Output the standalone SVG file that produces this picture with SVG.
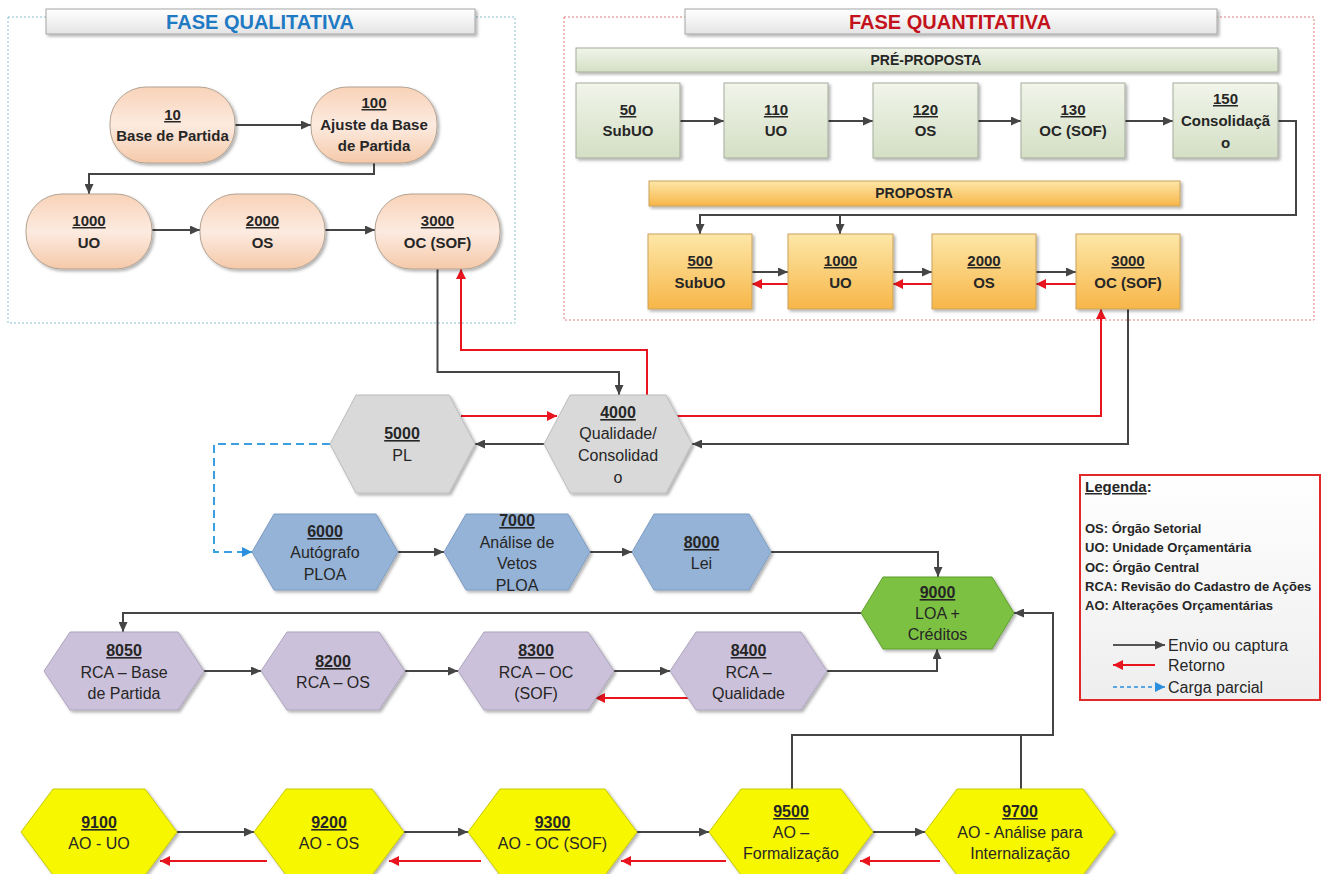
<svg xmlns="http://www.w3.org/2000/svg" width="1327" height="874" viewBox="0 0 1327 874">
<defs>
<style>
text{font-family:"Liberation Sans",Arial,sans-serif;fill:#262626;text-anchor:middle}
.b15{font-size:15px;font-weight:bold}
.n16{font-size:16px}
.num{font-weight:bold;text-decoration:underline}
.ln{fill:none;stroke:#454545;stroke-width:2;marker-end:url(#ad)}
.rd{fill:none;stroke:#e8141e;stroke-width:2;marker-end:url(#ar)}
.qual{fill:url(#gPeach);stroke:#b3a393;stroke-width:1}
.pre{fill:url(#gGreen);stroke:#a3ab9c;stroke-width:1}
.pro{fill:url(#gOrange);stroke:#c9a15a;stroke-width:1}
.gray{fill:#d9d9d9;stroke:#bcbcbc;stroke-width:1}
.blue{fill:#95b3d7;stroke:#7c9cc2;stroke-width:1}
.green{fill:#7cc142;stroke:#5e9f2e;stroke-width:1}
.purp{fill:#ccc1da;stroke:#ada3bd;stroke-width:1}
.yel{fill:#f7f700;stroke:#c8c800;stroke-width:1}
.sh{filter:url(#shadow)}
.leg{font-size:13px;font-weight:bold;text-anchor:start}
.legn{font-size:16px;text-anchor:start}
</style>
<marker id="ad" markerUnits="userSpaceOnUse" markerWidth="10" markerHeight="9" refX="10" refY="4.5" orient="auto"><path d="M0,0 L10,4.5 L0,9 z" fill="#454545"/></marker>
<marker id="ar" markerUnits="userSpaceOnUse" markerWidth="10" markerHeight="10" refX="10" refY="5" orient="auto"><path d="M0,0 L10,5 L0,10 z" fill="#e8141e"/></marker>
<marker id="ab" markerUnits="userSpaceOnUse" markerWidth="10" markerHeight="10" refX="10" refY="5" orient="auto"><path d="M0,0 L10,5 L0,10 z" fill="#2a8fde"/></marker>
<linearGradient id="gPeach" x1="0" y1="0" x2="0" y2="1"><stop offset="0" stop-color="#f8d2b8"/><stop offset="0.5" stop-color="#fcebe0"/><stop offset="1" stop-color="#f5c9a9"/></linearGradient>
<linearGradient id="gGreen" x1="0" y1="0" x2="0" y2="1"><stop offset="0" stop-color="#f1f5ea"/><stop offset="1" stop-color="#d4dfc5"/></linearGradient>
<linearGradient id="gOrange" x1="0" y1="0" x2="0" y2="1"><stop offset="0" stop-color="#fde7a8"/><stop offset="1" stop-color="#f7b648"/></linearGradient>
<linearGradient id="gTitle" x1="0" y1="0" x2="0" y2="1"><stop offset="0" stop-color="#ffffff"/><stop offset="1" stop-color="#e4e4e4"/></linearGradient>
<linearGradient id="gLeg" x1="0" y1="0" x2="0" y2="1"><stop offset="0" stop-color="#ffffff"/><stop offset="1" stop-color="#eeeeee"/></linearGradient>
<filter id="shadow" x="-10%" y="-10%" width="125%" height="130%"><feDropShadow dx="2" dy="2" stdDeviation="1.5" flood-color="#000" flood-opacity="0.3"/></filter>
</defs>

<!-- phase frames -->
<g id="frame-qualitativa">
<rect x="8" y="17" width="507" height="306" fill="none" stroke="#86c1d0" stroke-width="1" stroke-dasharray="2,2"/>
<rect x="46" y="9" width="429" height="25" fill="url(#gTitle)" stroke="#a6a6a6" class="sh"/>
<text x="260" y="29" style="font-size:20px;font-weight:bold;fill:#1f7ac4">FASE QUALITATIVA</text>
</g>
<g id="frame-quantitativa">
<rect x="564" y="17" width="750" height="303" fill="none" stroke="#e27d7d" stroke-width="1" stroke-dasharray="2,2"/>
<rect x="685" y="9" width="532" height="25" fill="url(#gTitle)" stroke="#a6a6a6" class="sh"/>
<text x="950" y="29" style="font-size:20px;font-weight:bold;fill:#c3121b">FASE QUANTITATIVA</text>
</g>
<g id="bar-preproposta">
<rect x="576" y="48" width="702" height="24" fill="url(#gGreen)" stroke="#a3ab9c" class="sh"/>
<text x="926" y="65" style="font-size:14px;font-weight:bold">PRÉ-PROPOSTA</text>
</g>
<g id="bar-proposta">
<rect x="649" y="181" width="531" height="25" fill="url(#gOrange)" stroke="#c9a15a" class="sh"/>
<text x="914" y="198" style="font-size:14px;font-weight:bold">PROPOSTA</text>
</g>

<!-- connectors -->
<g id="connectors">
<path class="ln" d="M235,125 H311"/>
<path class="ln" d="M374,163 V174 H89 V194"/>
<path class="ln" d="M152,230 H200"/>
<path class="ln" d="M325,230 H375"/>
<path class="ln" d="M680,121 H724"/>
<path class="ln" d="M828,121 H873"/>
<path class="ln" d="M978,121 H1021"/>
<path class="ln" d="M1125,121 H1173"/>
<path class="ln" d="M1278,121 H1296 V215 H700 V234"/>
<path class="ln" d="M840,215 V234"/>
<path class="ln" d="M752,272 H788"/>
<path class="ln" d="M893,272 H932"/>
<path class="ln" d="M1036,272 H1076"/>
<path class="rd" d="M788,284 H752"/>
<path class="rd" d="M932,284 H893"/>
<path class="rd" d="M1076,284 H1036"/>
<path class="ln" d="M437.5,269 V372 H619 V395"/>
<path class="rd" d="M647,395 V350 H461 V269"/>
<path class="ln" d="M1128,309 V444 H692"/>
<path class="rd" d="M677,416 H1101 V309"/>
<path class="rd" d="M461,416 H557"/>
<path class="ln" d="M544,444 H475"/>
<path d="M330,444 H214 V552 H252" fill="none" stroke="#3aa0e2" stroke-width="2" stroke-dasharray="8,5" marker-end="url(#ab)"/>
<path class="ln" d="M398,552 H444"/>
<path class="ln" d="M590,552 H632"/>
<path class="ln" d="M771,552 H938 V577"/>
<path class="ln" d="M861,613 H123 V632"/>
<path class="ln" d="M204,671 H261"/>
<path class="ln" d="M405,671 H458"/>
<path class="ln" d="M614,671 H670"/>
<path class="rd" d="M688,698 H595"/>
<path class="ln" d="M827,671 H937 V649"/>
<path class="ln" d="M792,789 V735 H1053 V613 H1014"/>
<path d="M1021,789 V735" fill="none" stroke="#454545" stroke-width="2"/>
<path class="ln" d="M177,832 H254"/>
<path class="ln" d="M404,832 H468"/>
<path class="ln" d="M637,832 H709"/>
<path class="ln" d="M873,832 H925"/>
<path class="rd" d="M267,861 H160"/>
<path class="rd" d="M481,861 H389"/>
<path class="rd" d="M726,861 H621"/>
<path class="rd" d="M940,861 H860"/>
</g>

<!-- qualitative nodes -->
<g id="q10"><rect class="qual sh" x="110" y="87" width="125" height="76" rx="36" ry="36"/>
<text class="b15" x="172.5" y="120"><tspan class="num">10</tspan></text><text class="b15" x="172.5" y="141">Base de Partida</text></g>
<g id="q100"><rect class="qual sh" x="311" y="87" width="126" height="76" rx="36" ry="36"/>
<text class="b15" x="374" y="108"><tspan class="num">100</tspan></text><text class="b15" x="374" y="130">Ajuste da Base</text><text class="b15" x="374" y="151">de Partida</text></g>
<g id="q1000"><rect class="qual sh" x="26" y="194" width="126" height="75" rx="36" ry="36"/>
<text class="b15" x="89" y="226"><tspan class="num">1000</tspan></text><text class="b15" x="89" y="248">UO</text></g>
<g id="q2000"><rect class="qual sh" x="200" y="194" width="125" height="75" rx="36" ry="36"/>
<text class="b15" x="262.5" y="226"><tspan class="num">2000</tspan></text><text class="b15" x="262.5" y="248">OS</text></g>
<g id="q3000"><rect class="qual sh" x="375" y="194" width="125" height="75" rx="36" ry="36"/>
<text class="b15" x="437.5" y="226"><tspan class="num">3000</tspan></text><text class="b15" x="437.5" y="248">OC (SOF)</text></g>

<!-- pre-proposta nodes -->
<g id="p50"><rect class="pre sh" x="576" y="83" width="104" height="75"/>
<text class="b15" x="628" y="115"><tspan class="num">50</tspan></text><text class="b15" x="628" y="136">SubUO</text></g>
<g id="p110"><rect class="pre sh" x="724" y="83" width="104" height="75"/>
<text class="b15" x="776" y="115"><tspan class="num">110</tspan></text><text class="b15" x="776" y="136">UO</text></g>
<g id="p120"><rect class="pre sh" x="873" y="83" width="105" height="75"/>
<text class="b15" x="925.5" y="115"><tspan class="num">120</tspan></text><text class="b15" x="925.5" y="136">OS</text></g>
<g id="p130"><rect class="pre sh" x="1021" y="83" width="104" height="75"/>
<text class="b15" x="1073" y="115"><tspan class="num">130</tspan></text><text class="b15" x="1073" y="136">OC (SOF)</text></g>
<g id="p150"><rect class="pre sh" x="1173" y="83" width="105" height="75"/>
<text class="b15" x="1225.5" y="104"><tspan class="num">150</tspan></text><text class="b15" x="1225.5" y="126">Consolidaçã</text><text class="b15" x="1225.5" y="148">o</text></g>

<!-- proposta nodes -->
<g id="r500"><rect class="pro sh" x="648" y="234" width="104" height="75"/>
<text class="b15" x="700" y="266"><tspan class="num">500</tspan></text><text class="b15" x="700" y="288">SubUO</text></g>
<g id="r1000"><rect class="pro sh" x="788" y="234" width="105" height="75"/>
<text class="b15" x="840.5" y="266"><tspan class="num">1000</tspan></text><text class="b15" x="840.5" y="288">UO</text></g>
<g id="r2000"><rect class="pro sh" x="932" y="234" width="104" height="75"/>
<text class="b15" x="984" y="266"><tspan class="num">2000</tspan></text><text class="b15" x="984" y="288">OS</text></g>
<g id="r3000"><rect class="pro sh" x="1076" y="234" width="104" height="75"/>
<text class="b15" x="1128" y="266"><tspan class="num">3000</tspan></text><text class="b15" x="1128" y="288">OC (SOF)</text></g>

<!-- gray hexes -->
<g id="h4000"><polygon class="gray sh" points="544,444 570,395 666,395 692,444 666,493 570,493"/>
<text class="n16" x="618" y="418"><tspan class="num">4000</tspan></text><text class="n16" x="618" y="439">Qualidade/</text><text class="n16" x="618" y="461">Consolidad</text><text class="n16" x="618" y="483">o</text></g>
<g id="h5000"><polygon class="gray sh" points="330,444 356,395 449,395 475,444 449,493 356,493"/>
<text class="n16" x="402" y="439"><tspan class="num">5000</tspan></text><text class="n16" x="402" y="461">PL</text></g>

<!-- blue hexes -->
<g id="h6000"><polygon class="blue sh" points="252,552 274,514 376,514 398,552 376,590 274,590"/>
<text class="n16" x="325" y="537"><tspan class="num">6000</tspan></text><text class="n16" x="325" y="558">Autógrafo</text><text class="n16" x="325" y="580">PLOA</text></g>
<g id="h7000"><polygon class="blue sh" points="444,552 466,514 568,514 590,552 568,590 466,590"/>
<text class="n16" x="517" y="526"><tspan class="num">7000</tspan></text><text class="n16" x="517" y="548">Análise de</text><text class="n16" x="517" y="569">Vetos</text><text class="n16" x="517" y="591">PLOA</text></g>
<g id="h8000"><polygon class="blue sh" points="632,552 654,514 749,514 771,552 749,590 654,590"/>
<text class="n16" x="701.5" y="548"><tspan class="num">8000</tspan></text><text class="n16" x="701.5" y="569">Lei</text></g>

<!-- green hex -->
<g id="h9000"><polygon class="green sh" points="861,613 883,577 992,577 1014,613 992,649 883,649"/>
<text class="n16" x="937.5" y="598"><tspan class="num">9000</tspan></text><text class="n16" x="937.5" y="619">LOA +</text><text class="n16" x="937.5" y="640">Créditos</text></g>

<!-- purple hexes -->
<g id="h8050"><polygon class="purp sh" points="44,671 70,632 178,632 204,671 178,710 70,710"/>
<text class="n16" x="124" y="656"><tspan class="num">8050</tspan></text><text class="n16" x="124" y="678">RCA – Base</text><text class="n16" x="124" y="699">de Partida</text></g>
<g id="h8200"><polygon class="purp sh" points="261,671 287,632 379,632 405,671 379,710 287,710"/>
<text class="n16" x="333" y="667"><tspan class="num">8200</tspan></text><text class="n16" x="333" y="688">RCA – OS</text></g>
<g id="h8300"><polygon class="purp sh" points="458,671 484,632 588,632 614,671 588,710 484,710"/>
<text class="n16" x="536" y="656"><tspan class="num">8300</tspan></text><text class="n16" x="536" y="678">RCA – OC</text><text class="n16" x="536" y="699">(SOF)</text></g>
<g id="h8400"><polygon class="purp sh" points="670,671 696,632 801,632 827,671 801,710 696,710"/>
<text class="n16" x="748.5" y="656"><tspan class="num">8400</tspan></text><text class="n16" x="748.5" y="678">RCA –</text><text class="n16" x="748.5" y="699">Qualidade</text></g>

<!-- yellow hexes -->
<g id="h9100"><polygon class="yel sh" points="21,832 53,789 145,789 177,832 145,875 53,875"/>
<text class="n16" x="99" y="828"><tspan class="num">9100</tspan></text><text class="n16" x="99" y="849">AO - UO</text></g>
<g id="h9200"><polygon class="yel sh" points="254,832 286,789 372,789 404,832 372,875 286,875"/>
<text class="n16" x="329" y="828"><tspan class="num">9200</tspan></text><text class="n16" x="329" y="849">AO - OS</text></g>
<g id="h9300"><polygon class="yel sh" points="468,832 500,789 605,789 637,832 605,875 500,875"/>
<text class="n16" x="552.5" y="828"><tspan class="num">9300</tspan></text><text class="n16" x="552.5" y="849">AO - OC (SOF)</text></g>
<g id="h9500"><polygon class="yel sh" points="709,832 741,789 841,789 873,832 841,875 741,875"/>
<text class="n16" x="791" y="817"><tspan class="num">9500</tspan></text><text class="n16" x="791" y="838">AO –</text><text class="n16" x="791" y="859">Formalização</text></g>
<g id="h9700"><polygon class="yel sh" points="925,832 957,789 1083,789 1115,832 1083,875 957,875"/>
<text class="n16" x="1020" y="817"><tspan class="num">9700</tspan></text><text class="n16" x="1020" y="838">AO - Análise para</text><text class="n16" x="1020" y="859">Internalização</text></g>

<!-- legend -->
<g id="legend">
<rect x="1080" y="475" width="240" height="225" fill="url(#gLeg)" stroke="#e02a2a" stroke-width="2"/>
<text x="1085" y="492" style="font-size:15px;font-weight:bold;text-anchor:start"><tspan text-decoration="underline">Legenda</tspan>:</text>
<text class="leg" x="1085" y="533">OS: Órgão Setorial</text>
<text class="leg" x="1085" y="552">UO: Unidade Orçamentária</text>
<text class="leg" x="1085" y="572">OC: Órgão Central</text>
<text class="leg" x="1085" y="591">RCA: Revisão do Cadastro de Ações</text>
<text class="leg" x="1085" y="610">AO: Alterações Orçamentárias</text>
<path d="M1113,645 H1165" stroke="#222" stroke-width="1.3" fill="none" marker-end="url(#ad)"/>
<text class="legn" x="1168" y="651">Envio ou captura</text>
<path d="M1155,665 H1113" stroke="#e8141e" stroke-width="2" fill="none" marker-end="url(#ar)"/>
<text class="legn" x="1168" y="671">Retorno</text>
<path d="M1113,687 H1165" stroke="#2a8fde" stroke-width="1.5" stroke-dasharray="4,3" fill="none" marker-end="url(#ab)"/>
<text class="legn" x="1168" y="693">Carga parcial</text>
</g>
</svg>
